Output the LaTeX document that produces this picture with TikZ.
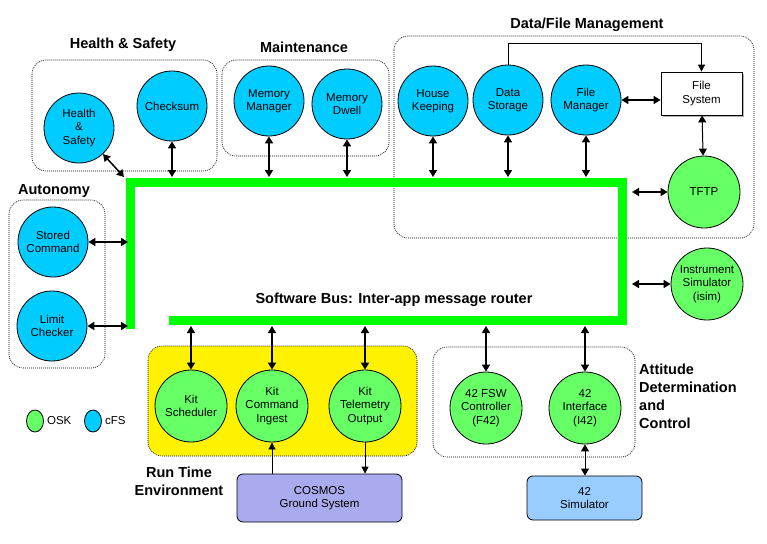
\documentclass[tikz,border=0pt]{standalone}
\usepackage{fontspec}
\setmainfont{Liberation Sans}
\usepackage{tikz}
\usetikzlibrary{arrows.meta,shapes.geometric,shadows,positioning}
\definecolor{cfsblue}{HTML}{00CCFF}
\definecolor{oskgreen}{HTML}{66FF66}
\definecolor{busgreen}{HTML}{00FF00}
\definecolor{cosmosblue}{HTML}{AAAAEE}
\definecolor{simblue}{HTML}{99CCFF}
\newcommand{\appfont}{\fontsize{11.5}{13.5}\selectfont}
\newcommand{\ttlfont}{\fontsize{14.5}{18}\selectfont\bfseries}

\tikzset{
  app/.style={circle,draw,line width=0.8pt,minimum size=70pt,inner sep=0pt,align=center,font=\appfont},
  cfs/.style={app,fill=cfsblue},
  osk/.style={app,fill=oskgreen,minimum size=72pt},
  grp/.style={draw,line width=0.6pt,dash pattern=on 1pt off 1pt,rounded corners=14pt},
  ttl/.style={font=\ttlfont,align=center,inner sep=0pt},
  blk/.style={draw,line width=0.8pt,rounded corners=6pt,align=center,font=\appfont,inner sep=0pt},
  dbl/.style={{Triangle[length=7pt,width=8pt]}-{Triangle[length=7pt,width=8pt]},line width=1.5pt},
  one/.style={-{Triangle[length=7pt,width=7pt]},line width=0.8pt},
  bus/.style={busgreen,line width=9pt},
  key/.style={ellipse,draw,line width=0.8pt,minimum width=17pt,minimum height=22pt,inner sep=0pt}
}

\begin{document}
\begin{tikzpicture}[x=1pt,y=-1pt]
  \useasboundingbox (0,0) rectangle (767,543);

  %% group boxes
  \draw[grp] (32,60) rectangle (217,171);
  \draw[grp] (222,60) rectangle (389,156);
  \draw[grp] (9,200) rectangle (105,368);
  \draw[grp] (394,36) rectangle (754,238);
  \draw[grp] (433,347) rectangle (635,457);
  \draw[grp,fill=yellow] (148,346) rectangle (417,456);

  \node[ttl] (tths) at (123,45) {Health \& Safety};
  \node[ttl] (ttmnt) at (304,47) {Maintenance};
  \node[ttl] (ttdfm) at (587,25) {Data/File Management};
  \node[ttl] (ttaut) at (54,191) {Autonomy};
  \node[ttl] (ttbus) at (394,300) {Software Bus: Inter-app message router};
  \node[ttl] (ttrte) at (179,481) {Run Time\\Environment};
  \node[ttl,align=left,anchor=west] (ttadc) at (639,396.5) {Attitude\\Determination\\and\\Control};

  %% software bus
  \coordinate (b1) at (130,329);
  \coordinate (b2) at (130,182);
  \coordinate (b3) at (622,182);
  \coordinate (b4) at (622,320);
  \coordinate (b5) at (169,320);
  \draw[bus] (b1) -- (b2) -- (b3) -- (b4) -- (b5);
  \coordinate (top) at (0,177);   % top edge of bus
  \coordinate (bot) at (0,326);   % bottom edge
  \coordinate (lft) at (128,0);   % left edge
  \coordinate (rgt) at (632,0);   % right edge
  \coordinate (hsbus) at (124,177);

  %% apps
  \node[cfs] (hs) at (79,128) {Health\\\&\\Safety};
  \node[cfs] (cks) at (172,106) {Checksum};
  \node[cfs] (mm) at (269,101) {Memory\\Manager};
  \node[cfs] (md) at (347,104) {Memory\\Dwell};
  \node[cfs] (sc) at (53,242) {Stored\\Command};
  \node[cfs] (lc) at (52,326) {Limit\\Checker};
  \node[cfs] (hk) at (433,101) {House\\Keeping};
  \node[cfs] (ds) at (508,100) {Data\\Storage};
  \node[cfs] (fm) at (586,100) {File\\Manager};
  \node[draw,line width=0.8pt,fill=white,minimum width=81pt,minimum height=43pt,align=center,font=\appfont,inner sep=0pt,
        drop shadow={shadow xshift=2pt,shadow yshift=-2pt,fill=gray!60,opacity=1}] (fs) at (701.5,93.5) {File\\System};
  \node[osk] (tftp) at (704,192) {TFTP};
  \node[osk] (isim) at (707,284) {Instrument\\Simulator\\(isim)};
  \node[osk] (ks) at (191,406) {Kit\\Scheduler};
  \node[osk] (kci) at (272,406) {Kit\\Command\\Ingest};
  \node[osk] (kto) at (365,406) {Kit\\Telemetry\\Output};
  \node[osk] (f42) at (486,408) {42 FSW\\Controller\\(F42)};
  \node[osk] (i42) at (585,408) {42\\Interface\\(I42)};
  \node[blk,fill=cosmosblue,minimum width=165pt,minimum height=48pt] (cosmos) at (319.5,498) {COSMOS\\Ground System};
  \node[blk,fill=simblue,minimum width=115pt,minimum height=44pt] (sim) at (584.5,498) {42\\Simulator};

  %% legend
  \node[key,fill=oskgreen] (kosk) at (35,421) {};
  \node[right=3pt of kosk,font=\appfont,inner sep=0pt] (tosk) {OSK};
  \node[key,fill=cfsblue] (kcfs) at (93,421) {};
  \node[right=3pt of kcfs,font=\appfont,inner sep=0pt] (tcfs) {cFS};

  %% connectors
  \draw[dbl] (hs) -- (hsbus); % hs<->bus
  \draw[dbl] (cks) -- (cks |- top);
  \draw[dbl] (mm) -- (mm |- top);
  \draw[dbl] (md) -- (md |- top);
  \draw[dbl] (hk) -- (hk |- top);
  \draw[dbl] (ds) -- (ds |- top);
  \draw[dbl] (fm) -- (fm |- top);
  \draw[dbl] (sc) -- (sc -| lft);
  \draw[dbl] (lc) -- (lc -| lft);
  \draw[dbl] (tftp) -- (tftp -| rgt);
  \draw[dbl] (isim) -- (isim -| rgt);
  \draw[dbl] (ks) -- (ks |- bot);
  \draw[dbl] (kci) -- (kci |- bot);
  \draw[dbl] (kto) -- (kto |- bot);
  \draw[dbl] (f42) -- (f42 |- bot);
  \draw[dbl] (i42) -- (i42 |- bot);
  \draw[dbl] (fm) -- (fm -| fs.west);  % fm<->fs
  \draw[dbl,line width=1pt] (fs) -- (tftp);   % fs<->tftp
  \draw[dbl,line width=1pt] (i42) -- (i42 |- sim.north);
  \coordinate (dsfs) at (508,43);
  \draw[one] (ds) -- (dsfs) -| (fs.north);  % ds->fs
  \draw[one] (kci |- cosmos.north) -- (kci);
  \draw[one] (kto) -- (kto |- cosmos.north);
\end{tikzpicture}
\end{document}
